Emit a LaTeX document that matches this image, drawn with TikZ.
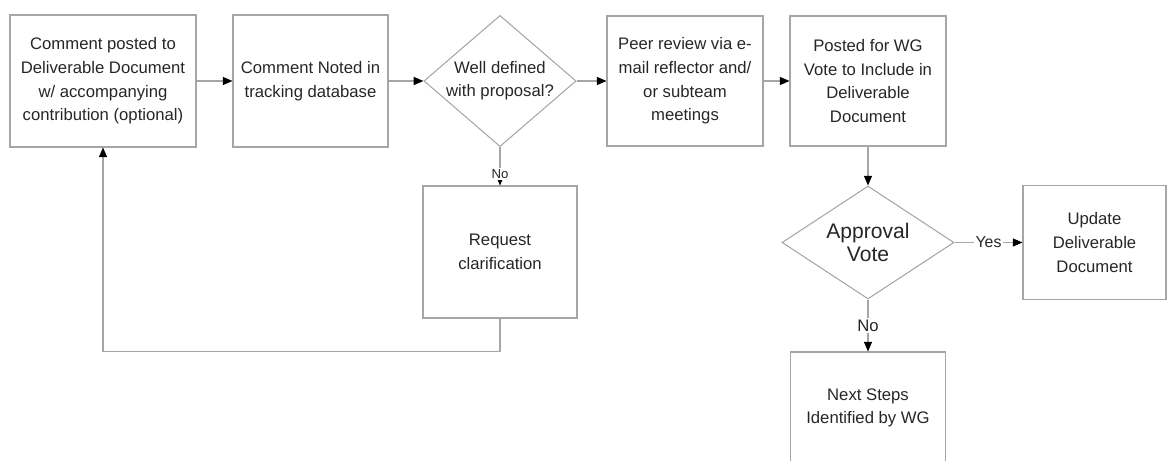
\documentclass[tikz,border=0pt]{standalone}
\usepackage{fontspec}
\setmainfont{Liberation Sans}
\usetikzlibrary{positioning,shapes.geometric,arrows.meta}

\begin{document}
\begin{tikzpicture}[node distance=3.7cm,on grid,line width=0.6pt,
	>={Triangle[color=black,length=5.5pt,width=4.6pt]},
	box/.style={draw=gray!70,rectangle,align=center,text=black!85,
		font=\fontsize{9.5}{13.5}\selectfont,inner sep=2pt},
	decision/.style={draw=gray!70,diamond,align=center,text=black!85,inner sep=0pt},
	lbl/.style={fill=white,inner sep=1pt,text=black!85,anchor=center}]
	\useasboundingbox (0,0) rectangle (23.38,-9.22);

	\node[box,minimum width=3.72cm,minimum height=2.64cm] (b_post) at (2.06,-1.62)
		{Comment posted to\\Deliverable Document\\w/ accompanying\\contribution (optional)};
	\node[box,minimum width=3.1cm,minimum height=2.64cm] (b_note) [right=4.15cm of b_post]
		{Comment Noted in\\tracking database};
	\node[decision,aspect=1.16,minimum width=3.04cm,minimum height=2.62cm,
		font=\fontsize{9.5}{13}\selectfont] (d_def) [right=3.79cm of b_note]
		{Well defined\\with proposal?};
	\node[box,minimum width=3.12cm,minimum height=2.6cm] (b_peer) [right=of d_def]
		{Peer review via e-\\mail reflector and/\\or subteam\\meetings};
	\node[box,minimum width=3.12cm,minimum height=2.6cm] (b_wg) [right=3.66cm of b_peer]
		{Posted for WG\\Vote to Include in\\Deliverable\\Document};
	\node[box,minimum width=3.08cm,minimum height=2.64cm] (b_req) [below=3.42cm of d_def]
		{Request\\clarification};
	\node[decision,aspect=1.52,minimum width=3.44cm,minimum height=2.26cm,
		font=\fontsize{12}{13}\selectfont] (d_vote) [below=3.23cm of b_wg]
		{Approval\\Vote};
	\node[box,minimum width=2.86cm,minimum height=2.28cm] (b_upd) [right=4.53cm of d_vote]
		{Update\\Deliverable\\Document};
	\node[box,minimum width=3.1cm,minimum height=2.24cm] (b_next) [below=3.31cm of d_vote]
		{Next Steps\\Identified by WG};


	\path[->,draw=gray!70]

	(b_post) edge (b_note)
	(b_note) edge (d_def)
	(d_def)  edge (b_peer)
	         edge node[lbl,pos=0.7,font=\fontsize{7.5}{8}\selectfont] {No} (b_req)
	(b_peer) edge (b_wg)
	(b_wg)   edge (d_vote)
	(d_vote) edge node[lbl,pos=0.5,font=\fontsize{9}{10}\selectfont] {Yes} (b_upd)
	         edge node[lbl,pos=0.5,font=\fontsize{9.5}{10}\selectfont] {No} (b_next);

	\draw[->,gray!70] (b_req.south) -- ++(0,-0.66) -| (b_post.south);

\end{tikzpicture}
\end{document}
